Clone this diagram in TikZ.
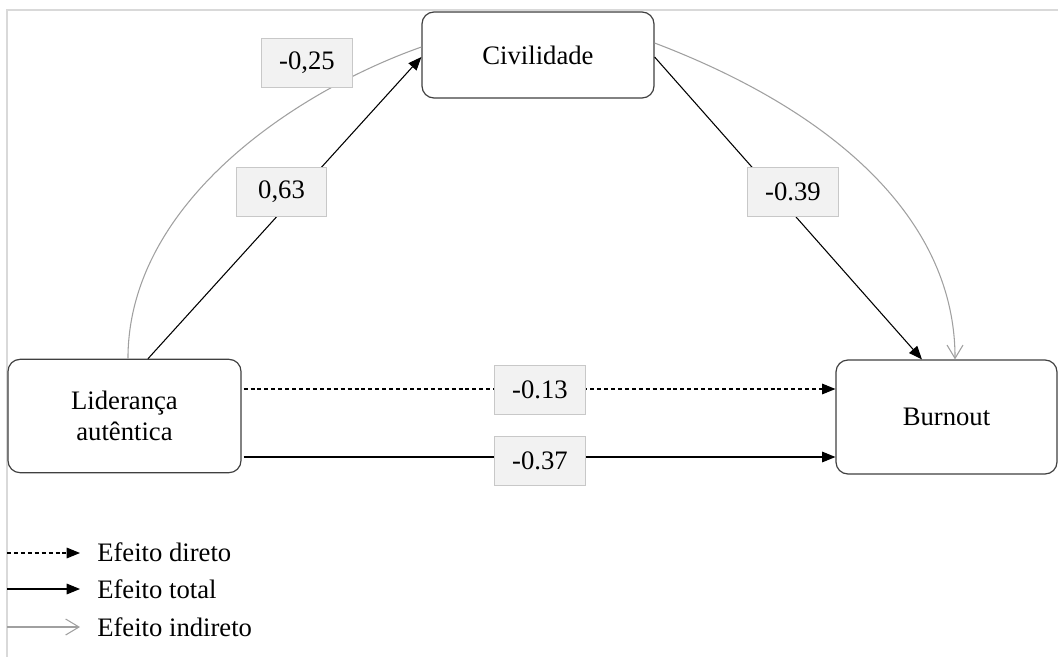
\documentclass[tikz,border=0pt]{standalone}
\usepackage{fontspec}
\setmainfont{Liberation Serif}
\usetikzlibrary{arrows.meta,calc}
\definecolor{lblfill}{HTML}{F2F2F2}
\definecolor{lbldraw}{HTML}{C8C8C8}
\definecolor{indir}{HTML}{A0A0A0}
\definecolor{framec}{HTML}{D9D9D9}
\definecolor{boxline}{HTML}{404040}
\begin{document}
\begin{tikzpicture}[x=0.75pt,y=-0.75pt,
  font=\fontsize{20}{23.5}\selectfont,
  varbox/.style={draw=boxline, rounded corners=9pt, fill=white, align=center, inner sep=0pt, line width=0.9pt},
  coef/.style={draw=lbldraw, fill=lblfill, minimum width=68pt, minimum height=37pt, inner sep=0pt, line width=0.75pt},
  total/.style={line width=0.8pt, -{Triangle[length=10pt,width=8pt]}},
  direct/.style={total, dash pattern=on 3pt off 2.2pt},
  indirect/.style={draw=indir, line width=0.8pt},
  indtip/.style={-{Straight Barb[length=10pt,width=12pt]}},
  legtext/.style={anchor=base west, inner sep=0pt}
]
\useasboundingbox (0,0) rectangle (1058,657);
% frame
\draw[framec, line width=1.5pt] (7,657) -- (7,10) -- (1058,10);

% variables
\node[varbox, minimum width=174pt, minimum height=64.5pt] (civ) at (538,55) {Civilidade};
\node[varbox, minimum width=174.75pt, minimum height=85pt] (lid) at (124.5,416) {Liderança\\autêntica};
\node[varbox, minimum width=165.75pt, minimum height=85.5pt] (bur) at (946.5,417) {Burnout};

% indirect path (gray)
\draw[indirect] ([xshift=2.6pt]lid.north) .. controls +(0pt,118.5pt) and +(-91.5pt,-32.25pt) .. ([yshift=6pt]civ.west);
\draw[indirect, indtip] ([yshift=9pt]civ.east) .. controls +(135pt,-51.3pt) and +(0pt,105pt) .. ([xshift=6.4pt]bur.north);

% paths a and b
\draw[total] ([xshift=17.6pt]lid.north) -- ([yshift=-1.5pt]civ.west);
\draw[total] ([yshift=-1.5pt]civ.east) -- ([xshift=-18.4pt]bur.north);

% direct and total effects
\coordinate (d1) at ($(lid.east)+(1.5pt,20.25pt)$);
\draw[direct] (d1) -- (d1 -| bur.west);
\coordinate (t1) at ($(lid.east)+(1.5pt,-30.75pt)$);
\draw[total] (t1) -- (t1 -| bur.west);

% coefficients
\node[coef] (c1) at (307,63) {-0,25};
\node[coef] (c2) at (281.5,192) {0,63};
\node[coef] (c3) at (793,192) {-0.39};
\node[coef] (c4) at (540,390) {-0.13};
\node[coef] (c5) at (540,461) {-0.37};

% legend
\coordinate (l1s) at (7,553); \coordinate (l1e) at (80,553);
\coordinate (l2s) at (7,589); \coordinate (l2e) at (80,589);
\coordinate (l3s) at (7,627); \coordinate (l3e) at (80,627);
\draw[direct] (l1s) -- (l1e);
\draw[total] (l2s) -- (l2e);
\draw[indirect, indtip] (l3s) -- (l3e);
\node[legtext] (t1l) at (97,561) {Efeito direto};
\node[legtext] (t2l) at (97,598) {Efeito total};
\node[legtext] (t3l) at (97,636) {Efeito indireto};
\end{tikzpicture}
\end{document}
